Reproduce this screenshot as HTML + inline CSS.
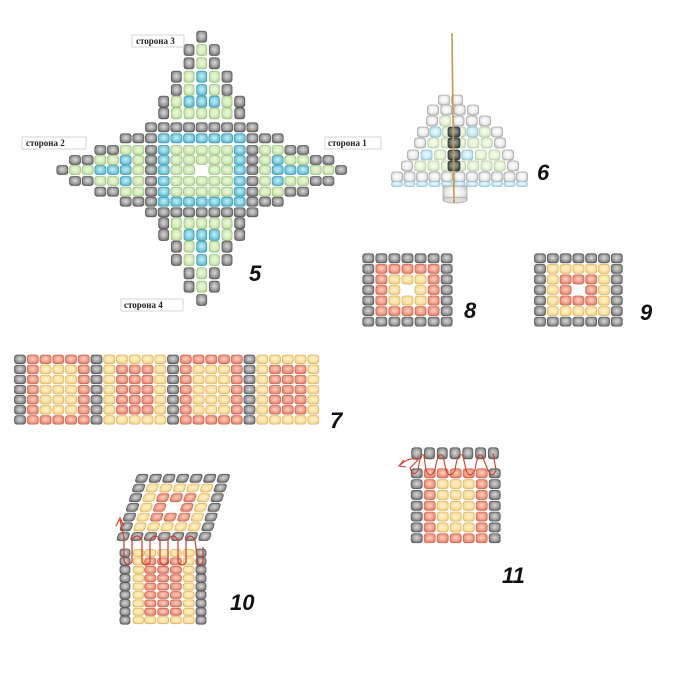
<!DOCTYPE html>
<html><head><meta charset="utf-8"><style>
html,body{margin:0;padding:0;background:#fff;}
svg{display:block;}
.n{font-family:"Liberation Sans",sans-serif;font-weight:bold;font-style:italic;font-size:22px;fill:#111;}
.lb{font-family:"Liberation Serif",serif;font-weight:bold;font-size:9px;fill:#222;}
</style></head><body>
<svg id="s" width="690" height="690" viewBox="0 0 690 690" xmlns="http://www.w3.org/2000/svg">
<defs>
<radialGradient id="gG" cx="50%" cy="45%" r="60%"><stop offset="0" stop-color="#d8d8d8"/><stop offset="0.6" stop-color="#a0a0a0"/><stop offset="1" stop-color="#6a6a6a"/></radialGradient>
<radialGradient id="gg" cx="50%" cy="45%" r="60%"><stop offset="0" stop-color="#eef8e2"/><stop offset="0.6" stop-color="#d6ecbc"/><stop offset="1" stop-color="#b4d496"/></radialGradient>
<radialGradient id="gb" cx="50%" cy="45%" r="60%"><stop offset="0" stop-color="#c8eef5"/><stop offset="0.6" stop-color="#86cfdf"/><stop offset="1" stop-color="#4fb0c8"/></radialGradient>
<radialGradient id="gr" cx="50%" cy="45%" r="60%"><stop offset="0" stop-color="#fcd2c4"/><stop offset="0.6" stop-color="#f2a08a"/><stop offset="1" stop-color="#de7660"/></radialGradient>
<radialGradient id="gy" cx="50%" cy="45%" r="60%"><stop offset="0" stop-color="#fff4d2"/><stop offset="0.6" stop-color="#fde3a4"/><stop offset="1" stop-color="#efc97a"/></radialGradient>
<radialGradient id="gw" cx="50%" cy="45%" r="60%"><stop offset="0" stop-color="#ffffff"/><stop offset="0.6" stop-color="#eeeeee"/><stop offset="1" stop-color="#bdbdbd"/></radialGradient>
<radialGradient id="gl" cx="50%" cy="45%" r="60%"><stop offset="0" stop-color="#f8fdf0"/><stop offset="0.6" stop-color="#e8f4d8"/><stop offset="1" stop-color="#c8dcb8"/></radialGradient>
<radialGradient id="gc" cx="50%" cy="45%" r="60%"><stop offset="0" stop-color="#effafd"/><stop offset="0.6" stop-color="#cdebf3"/><stop offset="1" stop-color="#a0d0e0"/></radialGradient>
<radialGradient id="gd" cx="50%" cy="45%" r="60%"><stop offset="0" stop-color="#aab0ac"/><stop offset="0.6" stop-color="#6a706c"/><stop offset="1" stop-color="#3a3e3c"/></radialGradient>
</defs>
<g id="beads"></g>
<rect x="132" y="35" width="52" height="12" fill="#fff" stroke="#ccc" stroke-width="0.8"/><text class="lb" x="136" y="44">сторона 3</text>
<rect x="22" y="137" width="64" height="12" fill="#fff" stroke="#ccc" stroke-width="0.8"/><text class="lb" x="26" y="146">сторона 2</text>
<rect x="325" y="137" width="56" height="12" fill="#fff" stroke="#ccc" stroke-width="0.8"/><text class="lb" x="328" y="146">сторона 1</text>
<rect x="121" y="299" width="62" height="12" fill="#fff" stroke="#ccc" stroke-width="0.8"/><text class="lb" x="124" y="308">сторона 4</text>
<text class="n" x="249" y="281">5</text>
<text class="n" x="537" y="180">6</text>
<text class="n" x="330" y="428">7</text>
<text class="n" x="464" y="318">8</text>
<text class="n" x="640" y="320">9</text>
<text class="n" x="230" y="610">10</text>
<text class="n" x="502" y="583">11</text>
</svg>
<script>
var G=document.getElementById('beads');var NS='http://www.w3.org/2000/svg';
var ST={G:'#5a5a5a',g:'#9fc484',b:'#3f9fb8',r:'#cf6a55',y:'#e0b868',w:'#a8a8a8',l:'#b8ccaa',c:'#90c4d4',d:'#333'};
function bead(cx,cy,w,h,c,tr){var e=document.createElementNS(NS,'rect');e.setAttribute('x',(cx-w/2).toFixed(2));e.setAttribute('y',(cy-h/2).toFixed(2));e.setAttribute('width',w);e.setAttribute('height',h);e.setAttribute('rx',2.5);e.setAttribute('fill','url(#g'+c+')');e.setAttribute('stroke',ST[c]);e.setAttribute('stroke-width',0.8);if(tr)e.setAttribute('transform',tr);G.appendChild(e);}
var top1="...........G...........",t2="..........GgG..........",t3=".........GgbgG.........",t4="........GgbbbgG........",t5="........GgggggG........";
var b0=".......GGGGGGGGG.......",b1=".....GGGbbbbbbbGGG.....",b2="...GGggGbgggggbGggGG...",b3=".GGggbgGbgggggbGgbggGG.",b4="GggbbbgGbgg.ggbGgbbbggG";
var rows5=[[36.7,top1,1],[50,t2,1],[63.3,t2,1],[76.7,t3,1],[90,t3,1],[101.7,t4,1],[113.3,t5,1],[127.3,b0,0],[138.3,b1,0],[150,b2,0],[160,b3,0],[170,b4,0],[181,b3,0],[191.7,b2,0],[201.7,b1,0],[212.3,b0,0],[223.3,t5,1],[235,t4,1],[246.7,t3,1],[260,t3,1],[273.3,t2,1],[286.7,t2,1],[300,top1,1]];
rows5.forEach(function(r){for(var i=0;i<23;i++){var ch=r[1][i];if(ch=='.')continue;var x=201.7+(i-11)*12.67;if(r[2])bead(x,r[0],10,11,ch);else bead(x,r[0],11,9,ch);}});
for(var c=0;c<24;c++)for(var rr=0;rr<7;rr++){var col;var x=20+c*12.75,y=359.3+rr*10.1;if(c==0||c==6||c==12||c==18)col='G';else{var blk=c<6?0:c<12?1:c<18?0:1;var k=(c%6)-1;var edge=(rr==0||rr==6||k==0||k==4);col=blk==0?(edge?'r':'y'):(edge?'y':'r');}bead(x,y,11,8.5,col);}
function sq(x0,px,y0,py,ring1,ring2){for(var i=0;i<7;i++)for(var j=0;j<7;j++){var d=Math.min(i,j,6-i,6-j);if(d==3)continue;var col=d==0?'G':d==1?ring1:ring2;bead(x0+i*px,y0+j*py,11,9,col);}}
sq(368.3,13.06,258.3,10.56,'r','y');
sq(540,12.8,258.3,10.56,'y','r');
for(var j=0;j<7;j++)for(var i=0;i<7;i++){var d=Math.min(i,j,6-i,6-j);if(d==3)continue;var col=d==0?'G':d==1?'y':'r';var x=141.7-j*3.07+i*13.6,y=478.3+j*9.7;bead(x,y,11,8,col,'translate('+x.toFixed(1)+' '+y.toFixed(1)+') skewX(-18) translate('+(-x).toFixed(1)+' '+(-y).toFixed(1)+')');}
for(var j=0;j<9;j++){var y=553+j*8.4;bead(125,y,10,8,'G');bead(201,y,10,8,'G');for(var i=0;i<5;i++){var col=(j==0||j==8||i==0||i==4)?'y':'r';bead(137.5+i*12.8+(i==0?1:0),y,11,7,col);}}
for(var i=0;i<7;i++)bead(416.7+i*12.78,453.3,10,11,'G');
for(var j=0;j<7;j++)for(var i=0;i<7;i++){var col;if(i==0||i==6)col='G';else if(j==6||i==1||i==5)col='r';else if(j==0)col='r';else col='y';bead(416.7+i*13,473.3+j*10.83,11,9,col);}
var r6=[[100,444,457,2],[110,433,473,4],[121,432,485,5],[132,423,497,7],[143,420,500,7],[155,413,508,8],[166,407,513,9],[177,397,522,11]];
r6.forEach(function(r,ri){for(var k=0;k<r[3];k++){var x=r[3]>1?r[1]+(r[2]-r[1])*k/(r[3]-1):r[1];var col='w';if(ri>=2&&ri<7&&k>0&&k<r[3]-1&&(k%3==1))col=(ri%2?'c':'l');else if(ri>=3&&ri<7&&k>0&&k<r[3]-1)col='l';bead(x,r[0],11,10,col);}});
for(var k=0;k<11;k++)bead(397+k*12.5,184,11,5,'c');
var e=document.createElementNS(NS,'g');e.innerHTML='<rect x="443" y="186" width="24" height="14" fill="url(#gw)" stroke="#aaa" stroke-width="0.8"/><ellipse cx="455" cy="200" rx="12" ry="3" fill="#ddd" stroke="#aaa" stroke-width="0.8"/>';G.appendChild(e);
[132,143,155,166].forEach(function(y){bead(454,y,12,10,'d');});
var t=document.createElementNS(NS,'g');t.innerHTML=
'<line x1="452" y1="33" x2="454" y2="203" stroke="#c49a48" stroke-width="1.6"/>'+
'<path d="M203 547 L203 560 Q203 566 198 564 L195 540 Q190 532 186 540 L186 562 Q182 568 178 562 L178 540 Q173 532 168 540 L168 562 Q164 568 160 562 L160 540 Q155 532 150 540 L150 562 Q146 568 142 562 L142 540 Q137 532 132 540 L132 562 Q126 568 124 560 L124 538 Q122 528 120 520" fill="none" stroke="#d83a2a" stroke-width="1.2"/>'+
'<path d="M116 526 L120 518 L124 526" fill="none" stroke="#d83a2a" stroke-width="1.2"/>'+
'<path d="M493 453 L496 470 Q492 480 488 470 L482 456 Q478 450 475 470 Q470 480 466 470 L463 456 Q458 450 455 470 Q450 480 446 470 L443 456 Q438 450 435 470 Q430 480 426 470 L424 456 Q421 450 418 470 Q414 478 410 468 L418 460 Q410 456 400 465" fill="none" stroke="#d83a2a" stroke-width="1.1"/>'+
'<path d="M404 460 L399 466 L406 467" fill="none" stroke="#d83a2a" stroke-width="1.1"/>';
G.appendChild(t);
</script>
</body></html>
